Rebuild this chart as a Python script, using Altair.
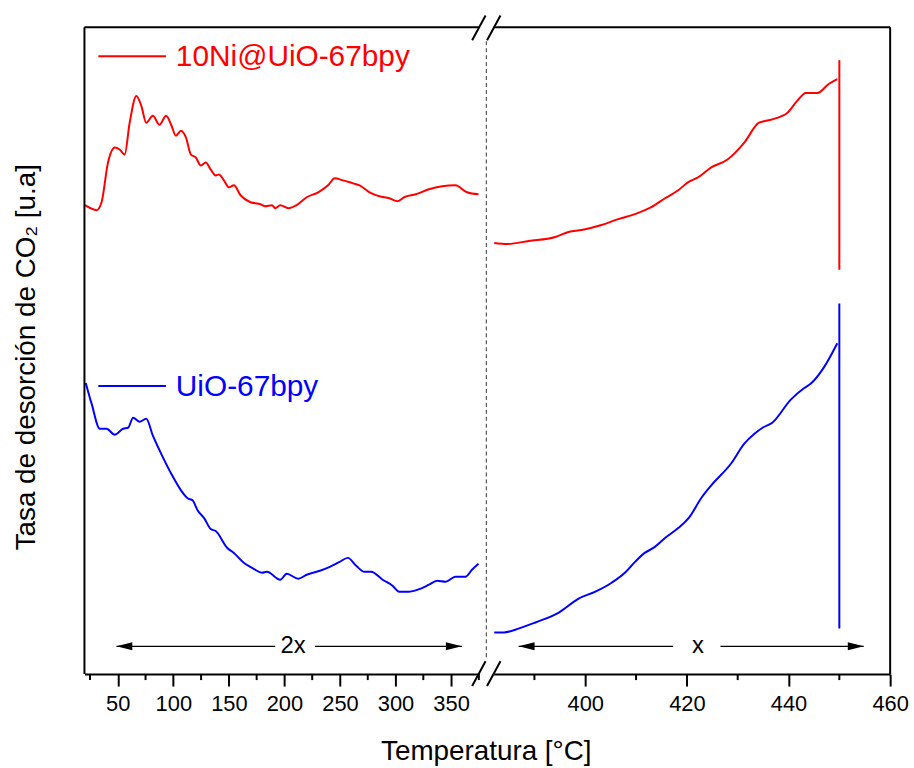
import altair as alt
import pandas as pd

FONT = "Liberation Sans, Arial, sans-serif"
RED = "#ff0000"
BLUE = "#0000ff"

# ---------------- data (arbitrary units) ----------------
red_left_T = [20.5, 31, 35.4, 41.2, 47.3, 51.7, 56.2, 60.7, 66.7, 71.2, 75.6, 81.6, 87.5, 93.5,
              98, 102.4, 106.9, 111.4, 115.8, 120.3, 124.7, 129.2, 133.6, 138.1, 141, 145.5, 150,
              154.5, 160.5, 169.4, 178.3, 182.8, 188.7, 191.7, 196.2, 203.6, 211, 220, 230.4,
              239.3, 245.3, 252.7, 261.7, 267.7, 276.6, 285.5, 294.4, 301.9, 307.8, 318.2, 330.1,
              342, 353.9, 364.3, 374.7]
red_left_v = [472, 467, 475, 515, 530, 528, 523, 555, 582, 572, 555, 562, 553, 562,
              553, 542, 547, 540, 523, 520, 512, 515, 508, 502, 503, 497, 490,
              492, 482, 475, 473, 471, 472, 469, 472, 469, 472, 480, 485,
              492, 499, 497, 494, 492, 485, 481, 479, 476, 480, 483, 488,
              491, 492, 485, 483]

blue_left_T = [21.2, 26.5, 33.9, 39.9, 47.3, 54.8, 59.3, 63.8, 69.7, 75.6, 81.6, 89, 98, 106.9,
               112.9, 117.3, 121.8, 127.7, 133.7, 138.1, 148.6, 154.5, 163.4, 172.3, 179.8,
               184.3, 196.2, 202.1, 212.5, 220, 231.9, 240.8, 249.7, 257.1, 264.6, 272, 278,
               288.4, 297.3, 303.3, 312.2, 322.7, 330.1, 337.5, 345, 353.9, 362.9, 368.8, 374.7]
blue_left_v = [293, 272, 247, 247, 241, 247, 248, 258, 254, 257, 240, 222, 202, 185,
               177, 175, 165, 157, 146, 144, 127, 122, 112, 106, 102,
               103, 95, 101, 96, 100, 104, 108, 113, 117, 109, 103, 103,
               95, 89, 83, 83, 86, 90, 94, 93, 98, 98, 105, 111]

red_right_T = [382.1, 384.7, 388.9, 394.1, 396.7, 399.3, 403.2, 406.5, 409.8, 413, 415.7, 418.3,
               420.2, 422.2, 424.8, 428, 431.3, 434.2, 436.5, 439.8, 441.7, 443.4, 445.7, 447.9,
               449.6]
red_right_v = [434, 433, 436, 440, 445, 447, 452, 458, 463, 470, 479, 487,
               495, 500, 510, 518, 535, 555, 558, 565, 577, 585, 585, 594,
               599]

blue_right_T = [382.1, 384, 387, 390.2, 394.8, 398.7, 402, 405.2, 407.8, 409.8, 411.7, 413.4,
                415.7, 418.3, 420.5, 422.8, 424.8, 428.7, 431.3, 433.3, 434.9, 436.8, 440.4,
                443.1, 444.3, 447, 449.6]
blue_right_v = [42, 42, 46, 52, 62, 76, 83, 92, 102, 113, 122, 127,
                137, 147, 158, 177, 190, 212, 232, 242, 248, 253, 276,
                288, 292, 309, 333]

# isothermal end segments at 450 °C
end_T = [450, 450]
end_lo = [407, 46]
end_hi = [618, 373]
end_color = [RED, BLUE]

# axis ticks
left_major = [50, 100, 150, 200, 250, 300, 350]
left_minor = [25, 75, 125, 175, 225, 275, 325, 375]
right_major = [400, 420, 440, 460]
right_minor = [390, 410, 430, 450]

# arrow annotations (temperature positions)
left_arrow = {"tip1": 48.8, "gap1": 191.7, "gap2": 227.4, "tip2": 359.6, "label": 207.8, "text": "2x"}
right_arrow = {"tip1": 386.9, "gap1": 417.3, "gap2": 426.6, "tip2": 454.8, "label": 422.2, "text": "x"}
arrow_level = 28

legend_labels = ["10Ni@UiO-67bpy", "UiO-67bpy"]

# ---------------- layout ----------------
W_L, W_R, H = 397, 399, 651
GAP = 15

yscale = alt.Scale(domain=[0, 651], nice=False, zero=False)
xl_scale = alt.Scale(domain=[20, 375], nice=False, zero=False)
xr_scale = alt.Scale(domain=[382, 460], nice=False, zero=False)

axis_common = dict(domainColor="black", domainWidth=2, tickColor="black", tickWidth=2,
                   tickSize=12, labelFont=FONT, labelFontSize=22, labelColor="black",
                   labelPadding=8, labelFlush=False, labelOverlap=False, grid=False, title=None)

xl_axis = alt.Axis(values=left_major, **axis_common)
xr_axis = alt.Axis(values=right_major, **axis_common)

one = pd.DataFrame({"a": [0]})


def curve(T, v, color, xs, ax):
    return alt.Chart(pd.DataFrame({"T": T, "v": v})).mark_line(
        color=color, strokeWidth=2, interpolate="monotone").encode(
        x=alt.X("T:Q", scale=xs, axis=ax),
        y=alt.Y("v:Q", scale=yscale, axis=None))


def minor_ticks(vals, xs, ax):
    return alt.Chart(pd.DataFrame({"T": vals})).mark_rule(color="black", strokeWidth=2).encode(
        x=alt.X("T:Q", scale=xs, axis=ax), y=alt.value(H), y2=alt.value(H + 6))


def frame(x1, y1, x2, y2, width=2, color="black", dash=None):
    kw = dict(color=color, strokeWidth=width)
    if dash:
        kw["strokeDash"] = dash
    return alt.Chart(one).mark_rule(**kw).encode(
        x=alt.value(x1), y=alt.value(y1), x2=alt.value(x2), y2=alt.value(y2))


def arrow(a, xs, ax):
    segs = pd.DataFrame({"x1": [a["tip1"], a["gap2"]], "x2": [a["gap1"], a["tip2"]],
                         "y": [arrow_level, arrow_level]})
    line = alt.Chart(segs).mark_rule(color="black", strokeWidth=1.3).encode(
        x=alt.X("x1:Q", scale=xs, axis=ax), x2="x2:Q",
        y=alt.Y("y:Q", scale=yscale, axis=None))
    head_l = alt.Chart(pd.DataFrame({"x": [a["tip1"]], "y": [arrow_level]})).mark_point(
        shape="M-1,0L1,-0.5L1,0.5Z", size=256, filled=True, color="black", opacity=1,
        xOffset=8).encode(
        x=alt.X("x:Q", scale=xs, axis=ax), y=alt.Y("y:Q", scale=yscale, axis=None))
    head_r = alt.Chart(pd.DataFrame({"x": [a["tip2"]], "y": [arrow_level]})).mark_point(
        shape="M1,0L-1,-0.5L-1,0.5Z", size=256, filled=True, color="black", opacity=1,
        xOffset=-8).encode(
        x=alt.X("x:Q", scale=xs, axis=ax), y=alt.Y("y:Q", scale=yscale, axis=None))
    lab = alt.Chart(pd.DataFrame({"x": [a["label"]], "y": [arrow_level], "t": [a["text"]]})).mark_text(
        font=FONT, fontSize=24, color="black", align="center", baseline="middle").encode(
        x=alt.X("x:Q", scale=xs, axis=ax), y=alt.Y("y:Q", scale=yscale, axis=None), text="t:N")
    return [line, head_l, head_r, lab]


def ends(xs, ax, idx):
    d = pd.DataFrame({"T": [end_T[idx]], "lo": [end_lo[idx]], "hi": [end_hi[idx]]})
    return alt.Chart(d).mark_rule(color=end_color[idx], strokeWidth=2).encode(
        x=alt.X("T:Q", scale=xs, axis=ax),
        y=alt.Y("lo:Q", scale=yscale, axis=None), y2="hi:Q")


def legend_item(label, color, y):
    ln = frame(14, y, 82, y, width=2, color=color)
    tx = alt.Chart(one).mark_text(text=label, font=FONT, fontSize=30, color=color,
                                  align="left", baseline="middle").encode(
        x=alt.value(92), y=alt.value(y + 1))
    return [ln, tx]


# slash (axis break) marks: half-vector (6.75, -12.5)
def slash(cx, cy):
    return frame(cx - 6.75, cy + 12.5, cx + 6.75, cy - 12.5, width=2)


left_layers = [
    curve(red_left_T, red_left_v, RED, xl_scale, xl_axis),
    curve(blue_left_T, blue_left_v, BLUE, xl_scale, xl_axis),
    minor_ticks(left_minor, xl_scale, xl_axis),
    frame(0, 0, W_L, 0),            # top edge
    frame(0, 0, 0, H),              # left edge
    frame(W_L + GAP / 2, 14, W_L + GAP / 2, 637, width=1, color="#333333", dash=[4, 3]),
    slash(W_L, 0.5), slash(W_L + GAP, 0.5), slash(W_L, H - 0.5), slash(W_L + GAP, H - 0.5),
    *arrow(left_arrow, xl_scale, xl_axis),
    *legend_item(legend_labels[0], RED, 29),
    *legend_item(legend_labels[1], BLUE, 361),
    alt.Chart(one).mark_text(text="Tasa de desorción de CO₂ [u.a]", font=FONT, fontSize=28,
                             color="black", angle=270, align="center", baseline="middle").encode(
        x=alt.value(-58), y=alt.value(332)),
    alt.Chart(one).mark_text(text="Temperatura [°C]", font=FONT, fontSize=28,
                             color="black", align="center", baseline="middle").encode(
        x=alt.value(W_L + GAP / 2), y=alt.value(729)),
]

right_layers = [
    curve(red_right_T, red_right_v, RED, xr_scale, xr_axis),
    curve(blue_right_T, blue_right_v, BLUE, xr_scale, xr_axis),
    ends(xr_scale, xr_axis, 0),
    ends(xr_scale, xr_axis, 1),
    minor_ticks(right_minor, xr_scale, xr_axis),
    frame(0, 0, W_R, 0),
    frame(W_R, 0, W_R, H),
    *arrow(right_arrow, xr_scale, xr_axis),
]

left = alt.layer(*left_layers).properties(width=W_L, height=H)
right = alt.layer(*right_layers).properties(width=W_R, height=H)

chart = alt.hconcat(left, right, spacing=GAP, bounds="flush").properties(
    padding={"left": 13, "top": 12, "right": 5, "bottom": 5},
    background="white",
).configure_view(stroke=None)

chart.save("out.html", embed_options={"renderer": "svg", "actions": False})
